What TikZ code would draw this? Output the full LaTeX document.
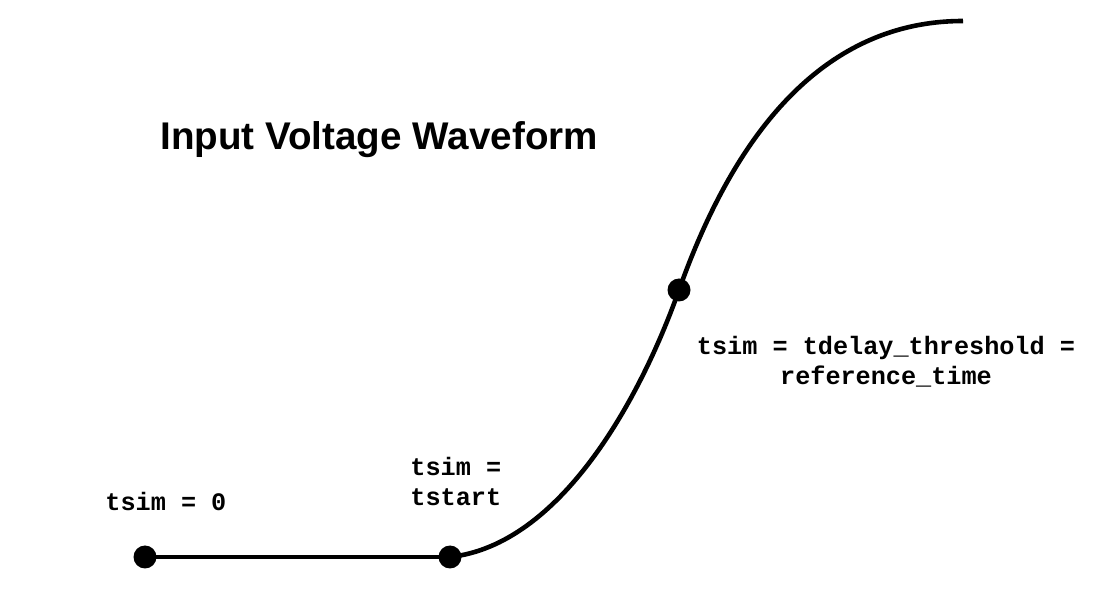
\documentclass[tikz,border=0pt]{standalone}
\usepackage{fontspec}
\setmainfont{Liberation Sans}
\newfontfamily\codefont{Liberation Mono}
\usetikzlibrary{positioning}

\begin{document}
\begin{tikzpicture}[x=0.5pt,y=-0.5pt,
  dot/.style={circle,fill=black,inner sep=0pt,minimum size=11.5pt},
  wave/.style={line width=2.3pt},
  timelbl/.style={inner sep=0pt,font=\codefont\bfseries\fontsize{12.6}{15}\selectfont},
  titlelbl/.style={inner sep=0pt,font=\bfseries\fontsize{19.3}{23}\selectfont}]
\useasboundingbox (0,0) rectangle (1094,593);
\node[dot] (t0) at (145,557) {};
\node[dot] (t1) at (450,557) {};
\node[dot] (tref) at (679,290) {};
\coordinate (top) at (963,21);
% waveform
\draw[wave] (t0.center) -- (t1.center);
\draw[wave] (t1.center) .. controls (560,545) and (640,400) .. (tref.center)
  .. controls (720,175) and (800,21) .. (top);
% labels
\node[titlelbl,anchor=base west] (title) at (160,150) {Input Voltage Waveform};
\node[timelbl,anchor=base west] (l0) at (105,510) {tsim = 0};
\node[timelbl,align=left,anchor=west] (l1) at (410,481) {tsim =\\tstart};
\node[timelbl,align=center] (lref) at (886,362) {tsim = tdelay\_threshold =\\reference\_time};
\end{tikzpicture}
\end{document}
